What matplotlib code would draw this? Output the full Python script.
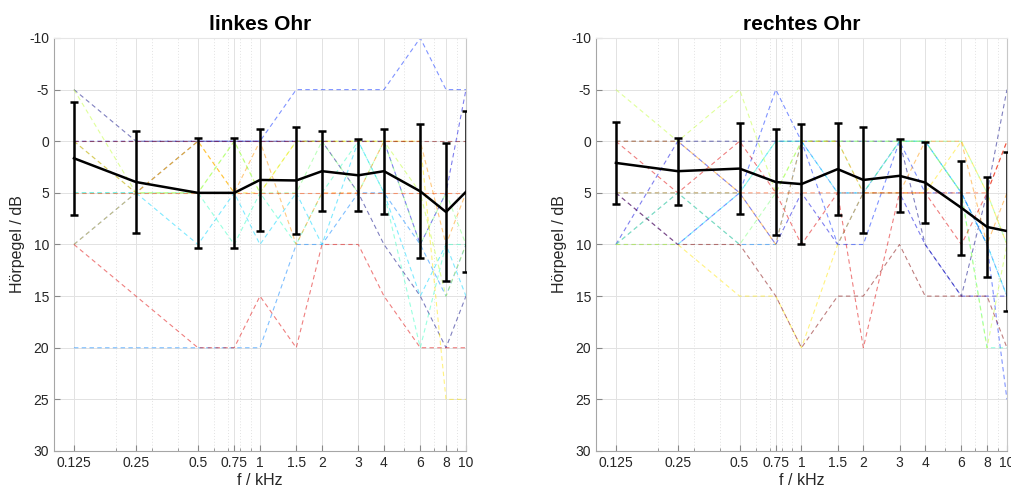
import numpy as np
import matplotlib
matplotlib.use("Agg")
import matplotlib.pyplot as plt
from matplotlib.ticker import FixedLocator, LogLocator, NullFormatter

plt.rcParams['font.family'] = ['Liberation Sans', 'DejaVu Sans']
plt.rcParams['axes.unicode_minus'] = False

freqs = [0.125, 0.25, 0.5, 0.75, 1, 1.5, 2, 3, 4, 6, 8, 10]
tick_labels = ['0.125', '0.25', '0.5', '0.75', '1', '1.5', '2', '3', '4', '6', '8', '10']

# individual thresholds, left ear (dB HL)
left_subjects = [
    [-5, 0, 0, 0, 0, 0, 0, 5, 10, 15, 20, 15],
    [0, 0, 0, 0, 0, 0, 0, 0, 0, 10, 5, -5],
    [10, 5, 0, 0, 0, -5, -5, -5, -5, -10, -5, -5],
    [20, 20, 20, 20, 20, 10, 10, 5, 5, 10, 15, 10],
    [5, 5, 10, 5, 10, 5, 10, 0, 5, 15, 10, 15],
    [5, 5, 5, 10, 5, 10, 5, 0, 5, 20, 10, 10],
    [0, 5, 5, 0, 5, 5, 0, 5, 0, 10, 5, 10],
    [-5, 5, 5, 0, 5, 0, 0, 0, 0, 5, 15, 10],
    [10, 5, 0, 5, 5, 0, 0, 0, 0, 0, 25, 25],
    [0, 5, 0, 5, 0, 10, 5, 5, 0, 0, 10, 5],
    [5, 5, 5, 5, 5, 5, 5, 5, 5, 5, 5, 5],
    [10, 15, 20, 20, 15, 20, 10, 10, 15, 20, 20, 20],
    [0, 0, 0, 0, 0, 0, 0, 0, 0, 0, 0, 0],
]

# individual thresholds, right ear (dB HL)
right_subjects = [
    [0, 0, 0, 0, 0, 0, 0, 0, 10, 15, 5, -5],
    [10, 0, 5, 10, 5, 10, 5, 5, 10, 15, 15, 15],
    [5, 10, 5, -5, 0, 10, 10, 0, 5, 5, 10, 25],
    [10, 5, 10, 10, 0, 5, 5, 0, 0, 5, 10, 15],
    [10, 10, 5, 0, 0, 5, 5, 0, 0, 5, 10, 15],
    [5, 5, 5, 0, 0, 0, 0, 0, 0, 5, 20, 20],
    [10, 5, 10, 5, 0, 0, 5, 0, 0, 0, 5, 10],
    [-5, 0, -5, 5, 0, 0, 0, 0, 0, 5, 20, 10],
    [10, 10, 15, 15, 20, 10, 5, 5, 5, 0, 5, 10],
    [0, 0, 5, 10, 0, 0, 5, 5, 0, 0, 10, 5],
    [5, 5, 5, 5, 5, 5, 5, 5, 5, 5, 5, 0],
    [0, 5, 0, 5, 10, 5, 20, 5, 5, 10, 5, 0],
    [5, 10, 10, 15, 20, 15, 15, 10, 15, 15, 15, 20],
]

left_mean = [1.65, 3.95, 5.0, 5.0, 3.75, 3.8, 2.9, 3.3, 2.9, 4.85, 6.85, 4.9]
left_std = [5.45, 4.9, 5.3, 5.3, 4.95, 5.2, 3.9, 3.5, 4.1, 6.5, 6.7, 7.8]
right_mean = [2.1, 2.9, 2.65, 3.95, 4.15, 2.7, 3.75, 3.35, 4.0, 6.45, 8.3, 8.7]
right_std = [3.95, 3.25, 4.4, 5.1, 5.8, 4.45, 5.15, 3.55, 3.95, 4.55, 4.85, 7.7]

titles = ['linkes Ohr', 'rechtes Ohr']

fig = plt.figure(figsize=(10.11, 4.90), dpi=100)
axes = [fig.add_axes([0.0534, 0.0796, 0.4075, 0.8429]),
        fig.add_axes([0.5895, 0.0796, 0.4065, 0.8429])]

panels = [(left_subjects, left_mean, left_std), (right_subjects, right_mean, right_std)]

for ax, (subjects, mean, std), title in zip(axes, panels, titles):
    cmap = plt.get_cmap('jet')
    n = len(subjects)
    for i, row in enumerate(subjects):
        ax.plot(freqs, row, linestyle=(0, (4, 3)), linewidth=0.8,
                color=cmap(i / (n - 1)), alpha=0.5, zorder=2)
    ax.errorbar(freqs, mean, yerr=std, color='black', linewidth=1.8,
                elinewidth=1.8, capsize=3, capthick=1.8, zorder=5)

    ax.set_xscale('log')
    ax.set_xlim(0.1, 10)
    ax.set_ylim(30, -10)
    ax.xaxis.set_major_locator(FixedLocator(freqs))
    ax.set_xticklabels(tick_labels)
    ax.xaxis.set_minor_locator(LogLocator(base=10, subs=np.arange(2, 10)))
    ax.xaxis.set_minor_formatter(NullFormatter())
    ax.set_yticks(np.arange(-10, 31, 5))

    ax.grid(True, which='major', color='#e2e2e2', linewidth=0.7)
    ax.grid(True, which='minor', axis='x', color='#e2e2e2', linewidth=0.7,
            linestyle=(0, (1, 2)))
    ax.set_axisbelow(True)
    ax.tick_params(which='both', direction='in', colors='#262626',
                   labelsize=10, top=False, right=False)
    ax.tick_params(which='major', length=4, color='#888888')
    ax.tick_params(which='minor', length=2.5, color='#888888')
    for side in ['left', 'bottom', 'top', 'right']:
        ax.spines[side].set_color('#a6a6a6')
        ax.spines[side].set_linewidth(0.8)
    ax.spines['top'].set_color('#e6e6e6')
    ax.spines['right'].set_color('#c8c8c8')

    ax.set_title(title, fontsize=15, fontweight='bold', pad=6)
    ax.set_xlabel('f / kHz', fontsize=11.5, color='#262626', labelpad=2)
    ax.set_ylabel('Hörpegel / dB', fontsize=11.5, color='#262626', labelpad=3)

fig.savefig('out.png', dpi=100)
